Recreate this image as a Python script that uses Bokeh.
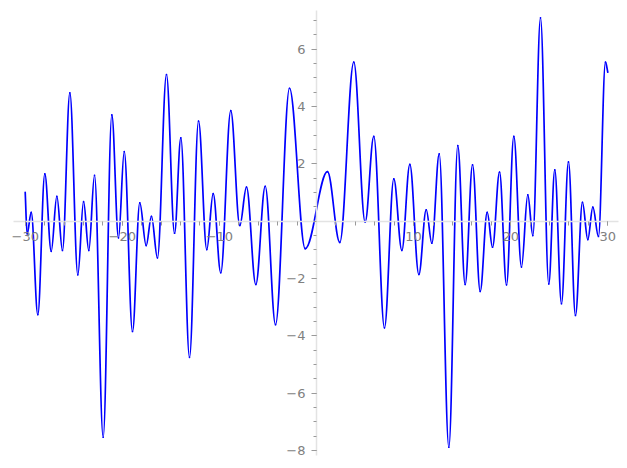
import numpy as np
from bokeh.plotting import figure
from bokeh.models import Range1d, FixedTicker, LinearAxis, ColumnDataSource
from bokeh.embed import file_html
from bokeh.resources import INLINE

# Curve: its start, every local extremum, and its end
curve_x = [-30.0, -29.8, -29.38, -28.7, -27.98, -27.32, -26.74, -26.16, -25.4, -24.58,
           -23.99, -23.45, -22.86, -21.97, -21.08, -20.39, -19.8, -18.95, -18.2, -17.54,
           -17.0, -16.38, -15.45, -14.62, -13.97, -13.08, -12.15, -11.3, -10.64, -9.86,
           -8.83, -7.9, -7.21, -6.25, -5.28, -4.22, -2.78, -1.16, 1.13, 2.4,
           3.84, 5.01, 5.9, 7.0, 7.96, 8.79, 9.61, 10.54, 11.3, 11.88,
           12.64, 13.63, 14.55, 15.31, 16.07, 16.86, 17.58, 18.13, 18.85, 19.57,
           20.32, 21.11, 21.76, 22.28, 23.07, 23.92, 24.54, 25.23, 25.95, 26.67,
           27.39, 27.94, 28.46, 29.04, 29.76, 30.0]
curve_y = [1.01, -0.44, 0.31, -3.26, 1.65, -1.05, 0.87, -1.02, 4.48, -1.87,
           0.68, -1.02, 1.6, -7.54, 3.71, -0.58, 2.43, -3.85, 0.64, -0.85,
           0.17, -1.28, 5.12, -0.42, 2.91, -4.75, 3.49, -0.99, 0.96, -1.80,
           3.86, -0.15, 1.19, -2.21, 1.22, -3.61, 4.64, -0.96, 1.73, -0.74,
           5.55, -0.03, 2.96, -3.72, 1.48, -1.02, 1.98, -1.86, 0.4, -0.77,
           2.35, -7.89, 2.64, -2.21, 1.97, -2.45, 0.31, -0.91, 1.71, -2.22,
           2.96, -1.6, 0.92, -0.5, 7.1, -2.19, 1.79, -2.88, 2.07, -3.29,
           0.66, -0.64, 0.49, -0.53, 5.55, 5.2]

x_tick_values = [-30, -20, -10, 10, 20, 30]
x_tick_labels = ["\u221230", "\u221220", "\u221210", "10", "20", "30"]
y_tick_values = [-8, -6, -4, -2, 2, 4, 6]
y_tick_labels = ["\u22128", "\u22126", "\u22124", "\u22122", "2", "4", "6"]

# Smooth segments between extrema (horizontal tangents at extrema)
cx = np.array(curve_x, dtype=float)
cy = np.array(curve_y, dtype=float)
x0, x1 = cx[:-1], cx[1:]
y0, y1 = cy[:-1], cy[1:]
k = 0.36
dx = x1 - x0
cx0 = x0 + k * dx
cx1 = x1 - k * dx
cy0 = y0.copy()
cy1 = y1.copy()
# end points are not extrema: aim along the chord there
cy0[0] = y0[0] + k * (y1[0] - y0[0])
cy1[-1] = y1[-1] - k * (y1[-1] - y0[-1])
src = ColumnDataSource(dict(x0=x0, y0=y0, x1=x1, y1=y1, cx0=cx0, cy0=cy0, cx1=cx1, cy1=cy1))

p = figure(width=620, height=462, output_backend="svg", toolbar_location=None,
           x_range=Range1d(-32.544, 31.308), y_range=Range1d(-8.422, 7.703),
           x_axis_location=None, y_axis_location=None, min_border=0)
p.outline_line_color = None
p.xgrid.visible = False
p.ygrid.visible = False
p.background_fill_color = "white"
p.border_fill_color = "white"

p.bezier(x0="x0", y0="y0", x1="x1", y1="y1", cx0="cx0", cy0="cy0", cx1="cx1", cy1="cy1",
         source=src, line_color="#0000ff", line_width=1.7, line_cap="round")

xa = LinearAxis(fixed_location=0,
                ticker=FixedTicker(ticks=x_tick_values, minor_ticks=list(np.arange(-30, 31, 2))),
                major_label_overrides=dict(zip(x_tick_values, x_tick_labels)),
                bounds=(-31.2, 31.07))
ya = LinearAxis(fixed_location=0,
                ticker=FixedTicker(ticks=y_tick_values, minor_ticks=list(np.arange(-8, 7.01, 0.5))),
                major_label_overrides=dict(zip(y_tick_values, y_tick_labels)),
                bounds=(-8.18, 7.35))
for ax in (xa, ya):
    ax.axis_line_color = "#e3e3e3"
    ax.axis_line_width = 1.5
    ax.major_tick_line_color = "#999999"
    ax.minor_tick_line_color = "#999999"
    ax.major_label_text_color = "#808080"
    ax.major_label_text_font = "DejaVu Sans"
    ax.major_label_text_font_size = "13px"
    ax.major_tick_in = 0
    ax.minor_tick_in = 0
xa.major_tick_out = 4
xa.minor_tick_out = 4
xa.major_label_standoff = 7
ya.major_tick_out = 5
ya.minor_tick_out = 3
ya.major_label_standoff = 6
p.add_layout(xa, "below")
p.add_layout(ya, "left")

open("out.html", "w").write(file_html(p, INLINE))
